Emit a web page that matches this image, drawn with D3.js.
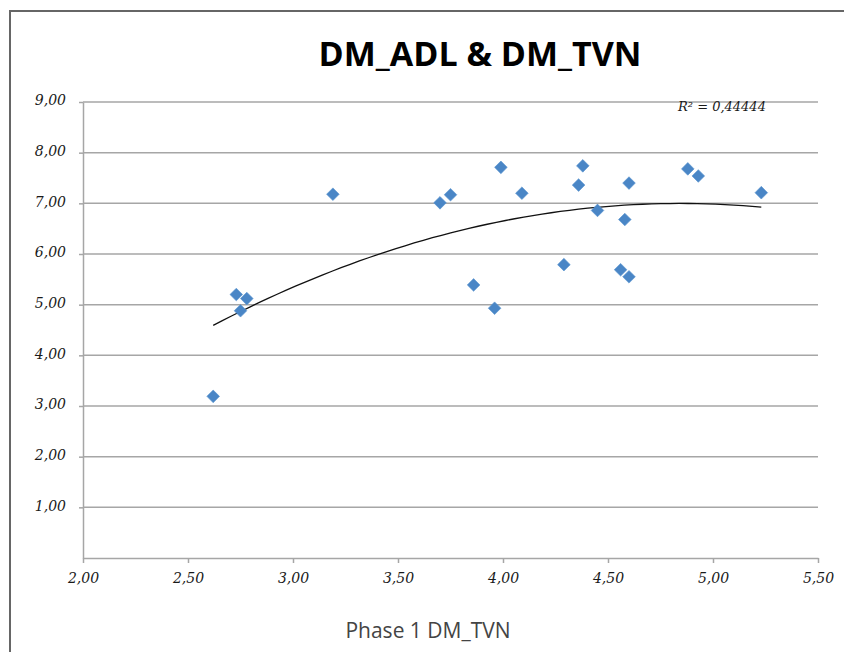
<!DOCTYPE html>
<html>
<head>
<meta charset="utf-8">
<script src="https://cdn.jsdelivr.net/npm/d3@7"></script>
<style>
  body { margin: 0; background: #fff; }
  .tick text { font-family: "DejaVu Serif", serif; font-style: italic; }
</style>
</head>
<body>
<svg></svg>
<script>

// values
var tvnValues = [2.62, 2.73, 2.78, 2.75, 3.19, 3.70, 3.75, 3.86, 3.96, 3.99, 4.09,
                 4.29, 4.36, 4.38, 4.45, 4.58, 4.56, 4.60, 4.60, 4.88, 4.93, 5.23];
var adlValues = [3.19, 5.20, 5.12, 4.88, 7.18, 7.01, 7.17, 5.39, 4.93, 7.71, 7.20,
                 5.79, 7.36, 7.74, 6.86, 6.68, 5.69, 5.55, 7.40, 7.68, 7.54, 7.21];
var xTicks = [2, 2.5, 3, 3.5, 4, 4.5, 5, 5.5];
var yTicks = [0, 1, 2, 3, 4, 5, 6, 7, 8, 9];
var chartTitle = "DM_ADL & DM_TVN";
var xTitle = "Phase 1 DM_TVN";
var rSquaredText = "R² = 0,44444";

var screen = {width:844, height:652};
var margins = {left:83, right:26, top:102, bottom:94};

var graph = {
    width: screen.width - margins.left - margins.right,
    height: screen.height - margins.top - margins.bottom
};

var svg = d3.select("svg")
    .attr("width", screen.width)
    .attr("height", screen.height);

// outer frame (runs off the right and bottom edges)
svg.append("rect")
    .attr("x", 10)
    .attr("y", 11)
    .attr("width", 900)
    .attr("height", 800)
    .attr("fill", "none")
    .attr("stroke", "#666")
    .attr("stroke-width", 2);

var xScale = d3.scaleLinear()
    .domain([2, 5.5])
    .range([0, graph.width]);

var yScale = d3.scaleLinear()
    .domain([0, 9])
    .range([graph.height, 0]);

var commaFmt = function(v) { return d3.format(".2f")(v).replace(".", ","); };

var target = svg.append("g")
    .attr("transform", "translate(" + margins.left + "," + margins.top + ")");

// gridlines
target.append("g")
    .selectAll("line")
    .data(yTicks.slice(1))
    .enter()
    .append("line")
    .attr("x1", 0)
    .attr("x2", graph.width)
    .attr("y1", function(d) { return yScale(d); })
    .attr("y2", function(d) { return yScale(d); })
    .attr("stroke", "#a6a6a6")
    .attr("stroke-width", 1.5);

var xAxis = d3.axisBottom(xScale)
    .tickValues(xTicks)
    .tickFormat(commaFmt)
    .tickSize(5)
    .tickSizeOuter(0)
    .tickPadding(10);

var yAxis = d3.axisLeft(yScale)
    .tickValues(yTicks.slice(1))
    .tickFormat(commaFmt)
    .tickSize(4)
    .tickSizeOuter(0)
    .tickPadding(13);

var gx = target.append("g")
    .attr("transform", "translate(0," + graph.height + ")")
    .call(xAxis);

var gy = target.append("g")
    .call(yAxis);

[gx, gy].forEach(function(g) {
    g.select(".domain").attr("stroke", "#a6a6a6").attr("stroke-width", 1.5);
    g.selectAll(".tick line").attr("stroke", "#a6a6a6").attr("stroke-width", 1.5);
    g.selectAll(".tick text")
        .attr("fill", "#1a1a1a")
        .style("font-size", "14px");
});
gy.selectAll(".tick text").attr("dy", "0.2em");

// quadratic least squares trend line
var fitQuadratic = function(xs, ys)
{
    var n = xs.length, s = [0,0,0,0,0], t = [0,0,0];
    for (var i = 0; i < n; i++) {
        var p = 1;
        for (var k = 0; k < 5; k++) { s[k] += p; if (k < 3) t[k] += p * ys[i]; p *= xs[i]; }
    }
    var A = [[s[0],s[1],s[2],t[0]],[s[1],s[2],s[3],t[1]],[s[2],s[3],s[4],t[2]]];
    for (var c = 0; c < 3; c++) {
        for (var r = c + 1; r < 3; r++) {
            var f = A[r][c] / A[c][c];
            for (var j = c; j < 4; j++) A[r][j] -= f * A[c][j];
        }
    }
    var b = [0,0,0];
    for (var r2 = 2; r2 >= 0; r2--) {
        var sum = A[r2][3];
        for (var j2 = r2 + 1; j2 < 3; j2++) sum -= A[r2][j2] * b[j2];
        b[r2] = sum / A[r2][r2];
    }
    return b;
};

var coef = fitQuadratic(tvnValues, adlValues);
var xMin = d3.min(tvnValues), xMax = d3.max(tvnValues);
var trendX = d3.range(0, 61).map(function(i) { return xMin + (xMax - xMin) * i / 60; });

target.append("path")
    .datum(trendX)
    .attr("fill", "none")
    .attr("stroke", "#111")
    .attr("stroke-width", 1.3)
    .attr("d", d3.line()
        .x(function(d) { return xScale(d); })
        .y(function(d) { return yScale(coef[0] + coef[1] * d + coef[2] * d * d); }));

// diamonds
target.append("g")
    .selectAll("path")
    .data(tvnValues)
    .enter()
    .append("path")
    .attr("d", d3.symbol().type(d3.symbolSquare).size(80))
    .attr("transform", function(d, i) {
        return "translate(" + xScale(d) + "," + yScale(adlValues[i]) + ") rotate(45)";
    })
    .attr("fill", "#4a86c6")
    .attr("stroke", "#5b95d0")
    .attr("stroke-width", 0.6);

// labels
svg.append("text")
    .text(chartTitle)
    .attr("x", 480)
    .attr("y", 66)
    .attr("text-anchor", "middle")
    .attr("font-family", "Open Sans, sans-serif")
    .attr("font-weight", "bold")
    .attr("font-size", 34)
    .attr("fill", "#000");

svg.append("text")
    .text(rSquaredText)
    .attr("x", 678)
    .attr("y", 111)
    .attr("font-family", "DejaVu Serif, serif")
    .attr("font-style", "italic")
    .attr("font-size", 13)
    .attr("fill", "#1a1a1a");

svg.append("text")
    .text(xTitle)
    .attr("x", 428)
    .attr("y", 638)
    .attr("text-anchor", "middle")
    .attr("font-family", "Open Sans, sans-serif")
    .attr("font-size", 21)
    .attr("fill", "#444");

</script>
</body>
</html>
